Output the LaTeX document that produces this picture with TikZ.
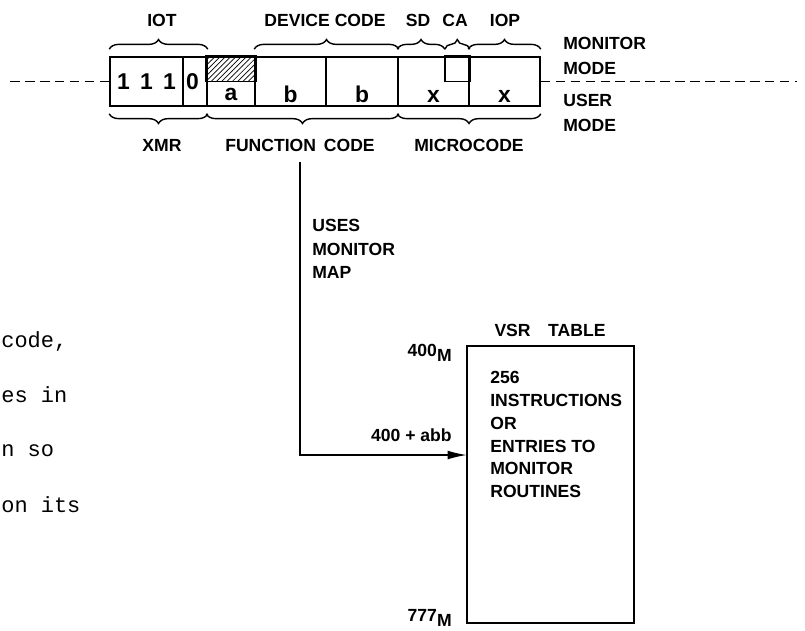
\documentclass[tikz,border=0pt]{standalone}
\usepackage{fontspec}
\setmainfont{Liberation Sans}
\newfontfamily\typewriter{Liberation Mono}
\usetikzlibrary{positioning,decorations.pathreplacing,patterns,arrows.meta}

\begin{document}
\begin{tikzpicture}[x=0.02cm, y=-0.02cm,
    field/.style={rectangle, draw, line width=0.9pt, minimum height=0.98cm, inner sep=0pt},
    bit/.style={font=\bfseries\fontsize{13}{15}\selectfont, inner sep=0pt},
    lbl/.style={font=\bfseries\fontsize{10}{13}\selectfont, inner sep=0pt, align=left},
    braceup/.style={draw, line width=0.8pt, decorate, decoration={brace, amplitude=5.5pt}},
    bracedown/.style={draw, line width=0.8pt, decorate, decoration={brace, mirror, amplitude=5.5pt}},
    modeline/.style={line width=1.1pt, dash pattern=on 5.5pt off 3pt},
    margintext/.style={font=\typewriter\fontsize{12.5}{14}\selectfont, anchor=base west, inner sep=0pt}
]
    \useasboundingbox (0,0) rectangle (805,630);

    % instruction word
    \node[field, minimum width=1.46cm] (ones) at (146.5,81.5) {};
    \node[field, minimum width=0.48cm] (zero) at (195,81.5) {};
    \node[field, minimum width=0.96cm] (func) at (231,81.5) {};
    \node[field, minimum width=1.42cm] (dev1) at (290.5,81.5) {};
    \node[field, minimum width=1.44cm] (dev2) at (362,81.5) {};
    \node[field, minimum width=1.42cm] (sd) at (433.5,81.5) {};
    \node[field, minimum width=1.42cm] (iop) at (504.5,81.5) {};
    \draw[line width=0.9pt, pattern=north east lines] (func.north west) rectangle (func.east);
    \draw[line width=0.9pt] ([xshift=-14.2pt]sd.north east) rectangle (sd.east);

    \node[bit] at (ones.center) {1\hspace{0.45em}1\hspace{0.45em}1};
    \node[bit] at ([xshift=-1.5pt]zero.center) {0};
    \node[bit] at ([shift={(0,13)}]func.center) {a};
    \node[bit] at ([shift={(0,13)}]dev1.center) {b};
    \node[bit] at ([shift={(0,13)}]dev2.center) {b};
    \node[bit] at ([shift={(0,15)}]sd.center) {x};
    \node[bit] at ([shift={(0,15)}]iop.center) {x};

    % mode boundary
    \coordinate (lend) at (10,81.5);
    \coordinate (rend) at (797,81.5);
    \draw[modeline] (lend) -- (ones.west);
    \draw[modeline] (iop.east) -- (rend);

    % field braces
    \draw[braceup] ([yshift=4pt]ones.north west) -- ([yshift=4pt]zero.north east);
    \draw[braceup] ([yshift=4pt]dev1.north west) -- ([yshift=4pt]dev2.north east);
    \draw[braceup] ([yshift=4pt]sd.north west) -- ([xshift=-14.2pt,yshift=4pt]sd.north east);
    \draw[braceup] ([xshift=-14.2pt,yshift=4pt]sd.north east) -- ([yshift=4pt]sd.north east);
    \draw[braceup] ([yshift=4pt]iop.north west) -- ([yshift=4pt]iop.north east);
    \draw[bracedown] ([yshift=-4pt]ones.south west) -- ([yshift=-4pt]zero.south east);
    \draw[bracedown] ([yshift=-4pt]func.south west) -- ([yshift=-4pt]dev2.south east);
    \draw[bracedown] ([yshift=-4pt]sd.south west) -- ([yshift=-4pt]iop.south east);

    \node[lbl] (iot) at (162,20) {IOT};
    \node[lbl] (devcode) at (325,20) {DEVICE CODE};
    \node[lbl] (sdl) at (418,20) {SD};
    \node[lbl] (cal) at (455,20) {CA};
    \node[lbl] (iopl) at (505,20) {IOP};
    \node[lbl] (xmr) at (162,145) {XMR};
    \node[lbl] (fc) at (300,145) {FUNCTION\hspace{0.45em}CODE};
    \node[lbl] (micro) at (469,145) {MICROCODE};
    \node[lbl, anchor=west, font=\bfseries\fontsize{10}{14.2}\selectfont] (monmode) at (563,55.5) {MONITOR\\MODE};
    \node[lbl, anchor=west, font=\bfseries\fontsize{10}{14.2}\selectfont] (usermode) at (563,112.5) {USER\\MODE};

    % vector table
    \node[draw, line width=0.9pt, minimum width=3.34cm, minimum height=5.54cm, inner sep=0pt] (vsr) at (550.5,484.5) {};
    \node[lbl] (vsrtitle) at (550,330) {VSR\quad TABLE};
    \node[lbl, anchor=north west] (entries) at (490,371) {256\\INSTRUCTIONS\\OR\\ENTRIES TO\\MONITOR\\ROUTINES};
    \node[lbl, anchor=east] (first) at (452,353) {400\raisebox{-0.55ex}{M}};
    \node[lbl, anchor=east] (last) at (452,618) {777\raisebox{-0.55ex}{M}};
    \coordinate (abb) at (467,455);
    \node[lbl, anchor=south east] (offset) at (452,442) {400 + abb};

    \draw[line width=0.9pt, -{Latex[length=11pt,width=5pt]}] ([yshift=-6pt]fc.south) |- (abb);
    \node[lbl, anchor=west, font=\bfseries\fontsize{10}{13.4}\selectfont] (uses) at (312,249) {USES\\MONITOR\\MAP};

    % cut-off page text
    \node[margintext] (m1) at (1,347) {code,};
    \node[margintext] (m2) at (1,402) {es in};
    \node[margintext] (m3) at (1,456) {n so};
    \node[margintext] (m4) at (1,512) {on its};
\end{tikzpicture}
\end{document}
